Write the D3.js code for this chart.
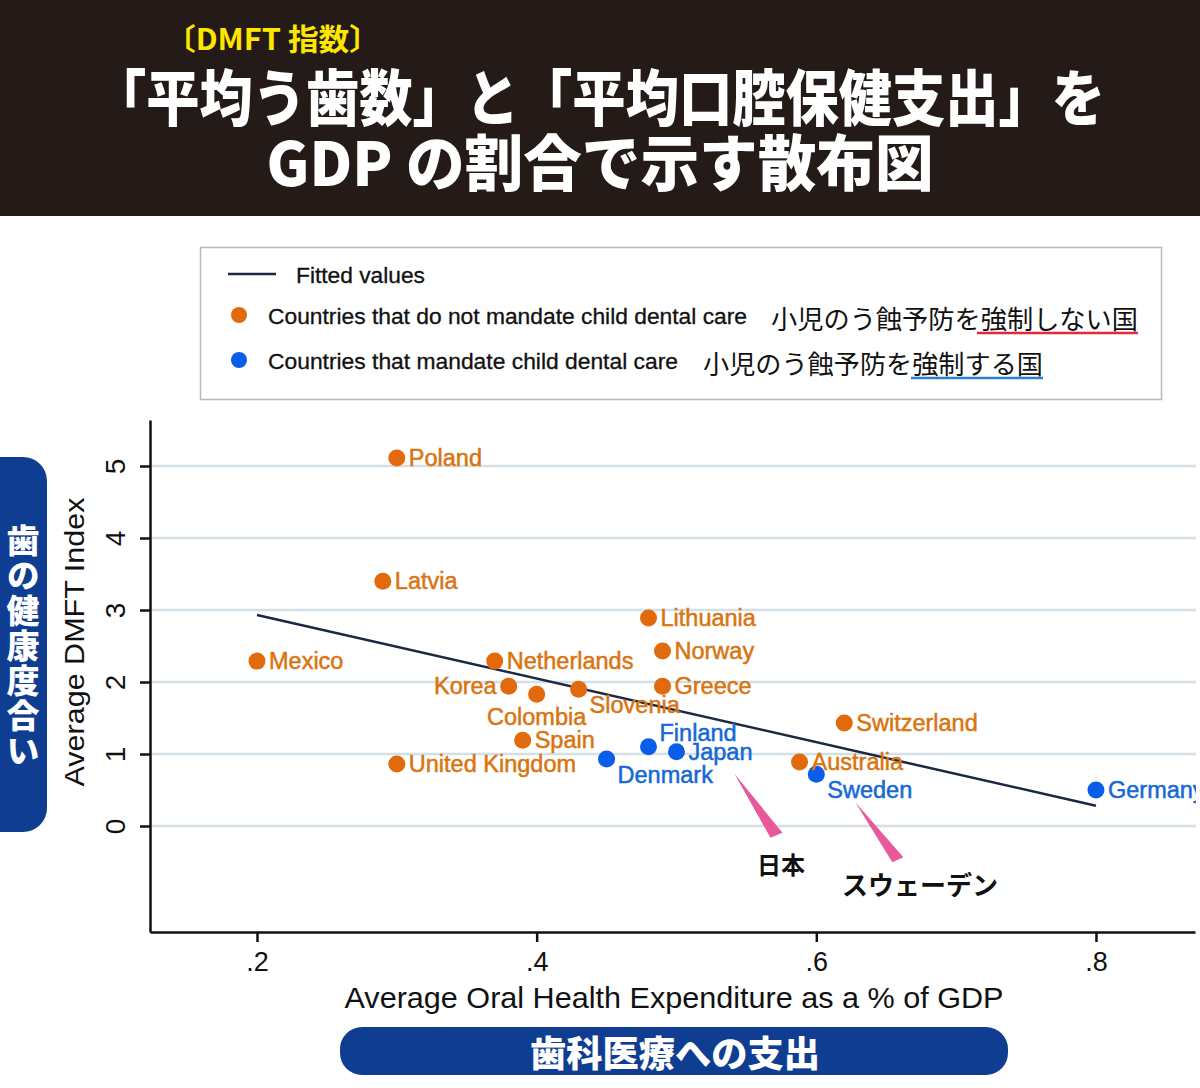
<!DOCTYPE html>
<html><head><meta charset="utf-8">
<script src="https://cdn.jsdelivr.net/npm/d3@7"></script>
<style>body{margin:0;background:#fff}svg{display:block}</style>
</head><body>
<svg id="c" width="1200" height="1088"></svg>
<script>
// ---------- data ----------
const countries   = ["Poland","Latvia","Mexico","Netherlands","Korea","Colombia","Slovenia","Spain","United Kingdom","Lithuania","Norway","Greece","Switzerland","Australia","Denmark","Finland","Japan","Sweden","Germany"];
const expenditure = [0.30,0.29,0.20,0.37,0.38,0.40,0.43,0.39,0.30,0.48,0.49,0.49,0.62,0.588,0.45,0.48,0.50,0.60,0.80];
const dmft        = [5.11,3.40,2.29,2.29,1.94,1.83,1.90,1.19,0.86,2.89,2.43,1.94,1.43,0.89,0.93,1.10,1.03,0.72,0.50];
const mandates    = [0,0,0,0,0,0,0,0,0,0,0,0,0,0,1,1,1,1,1];
const xTicks = [0.2,0.4,0.6,0.8];
const yTicks = [0,1,2,3,4,5];
const legendEn = ["Fitted values","Countries that do not mandate child dental care","Countries that mandate child dental care"];
const legendJa = ["小児のう蝕予防を強制しない国","小児のう蝕予防を強制する国"];
const titleSub = "〔DMFT 指数〕";
const titleLine1 = "「平均う歯数」と「平均口腔保健支出」を";
const titleLine2 = "GDP の割合で示す散布図";
const xTitle = "Average Oral Health Expenditure as a % of GDP";
const yTitle = "Average DMFT Index";
const xTitleJa = "歯科医療への支出";
const yTitleJa = "歯の健康度合い";
const calloutJapan = "日本", calloutSweden = "スウェーデン";

// label placement (clock positions, style only)
const labelClock = {Korea:9, Colombia:6, Slovenia:4, Denmark:4, Sweden:4, Finland:2};

// ---------- styles ----------
const ORANGE = "#e3690d", ORANGE_T = "#d9740f", BLUE = "#0a5de8", BLUE_T = "#1469d4";
const NAVY = "#1b2744", GRID = "#d4dfe6", PILL = "#0e3d92";
const SANS = "'Liberation Sans', Arial, sans-serif";
const JP = "'Noto Sans CJK JP', 'Noto Sans', sans-serif";

const svg = d3.select("#c");

// ---------- header ----------
svg.append("rect").attr("x",0).attr("y",0).attr("width",1200).attr("height",216).attr("fill","#241a17");
svg.append("text").attr("x",165).attr("y",50).attr("fill","#ffe600").attr("font-family",JP)
  .attr("font-weight",700).attr("font-size",30).attr("textLength",215).attr("lengthAdjust","spacingAndGlyphs").text(titleSub);
svg.append("text").attr("x",599).attr("y",121).attr("fill","#fff").attr("font-family",JP)
  .attr("font-weight",900).attr("font-size",61).attr("text-anchor","middle")
  .attr("textLength",1012).attr("lengthAdjust","spacingAndGlyphs").text(titleLine1);
svg.append("text").attr("x",600).attr("y",186).attr("fill","#fff").attr("font-family",JP)
  .attr("font-weight",900).attr("font-size",61).attr("text-anchor","middle")
  .attr("textLength",667).attr("lengthAdjust","spacingAndGlyphs").text(titleLine2);

// ---------- legend ----------
const lg = svg.append("g");
lg.append("rect").attr("x",200.5).attr("y",247.5).attr("width",961).attr("height",152)
  .attr("fill","#fff").attr("stroke","#b8b8b8").attr("stroke-width",1.5);
lg.append("line").attr("x1",228).attr("x2",276).attr("y1",274).attr("y2",274).attr("stroke",NAVY).attr("stroke-width",2.5);
lg.append("circle").attr("cx",239).attr("cy",315).attr("r",8).attr("fill",ORANGE);
lg.append("circle").attr("cx",239).attr("cy",360).attr("r",8).attr("fill",BLUE);
[[296,275],[268,316],[268,361]].forEach((p,i)=>{
  lg.append("text").attr("x",p[0]).attr("y",p[1]).attr("dominant-baseline","central")
    .attr("font-family",SANS).attr("font-size",22).attr("fill","#111")
    .attr("stroke","#111").attr("stroke-width",0.3)
    .attr("textLength", [129,479,410][i]).attr("lengthAdjust","spacingAndGlyphs").text(legendEn[i]);
});
lg.append("text").attr("x",771).attr("y",317).attr("dominant-baseline","central").attr("font-family",JP)
  .attr("font-size",26).attr("fill","#111").attr("textLength",367).attr("lengthAdjust","spacingAndGlyphs").text(legendJa[0]);
lg.append("text").attr("x",703).attr("y",362).attr("dominant-baseline","central").attr("font-family",JP)
  .attr("font-size",26).attr("fill","#111").attr("textLength",340).attr("lengthAdjust","spacingAndGlyphs").text(legendJa[1]);
lg.append("line").attr("x1",977).attr("x2",1138).attr("y1",333).attr("y2",333).attr("stroke","#e02a3c").attr("stroke-width",2.5);
lg.append("line").attr("x1",911).attr("x2",1043).attr("y1",378).attr("y2",378).attr("stroke","#2b80c9").attr("stroke-width",2.5);

// ---------- scales ----------
const x = d3.scaleLinear().domain([0.12348, 0.87082]).range([150, 1195]);
const y = d3.scaleLinear().domain([-1.4722, 5.6389]).range([932, 420]);

svg.append("defs").append("clipPath").attr("id","clip")
  .append("rect").attr("x",0).attr("y",400).attr("width",1196).attr("height",560);
const plot = svg.append("g").attr("clip-path","url(#clip)");

// grid
plot.selectAll("line.grid").data(yTicks).join("line").attr("class","grid")
  .attr("x1",152).attr("x2",1196).attr("y1",d=>y(d)).attr("y2",d=>y(d))
  .attr("stroke",GRID).attr("stroke-width",2.5);

// fitted line (OLS)
const n = expenditure.length;
const mx = d3.mean(expenditure), my = d3.mean(dmft);
let sxy=0, sxx=0;
for (let i=0;i<n;i++){ sxy += (expenditure[i]-mx)*(dmft[i]-my); sxx += (expenditure[i]-mx)**2; }
const slope = sxy/sxx, icpt = my - slope*mx;
const [xmin,xmax] = d3.extent(expenditure);
plot.append("path").datum([xmin,xmax])
  .attr("d", d3.line().x(d=>x(d)).y(d=>y(icpt+slope*d)))
  .attr("stroke",NAVY).attr("stroke-width",2.5).attr("fill","none");

// points + labels
const pts = countries.map((c,i)=>({c, x:expenditure[i], y:dmft[i], m:mandates[i]}));
plot.selectAll("circle.pt").data(pts).join("circle").attr("class","pt")
  .attr("cx",d=>x(d.x)).attr("cy",d=>y(d.y)).attr("r",8.5)
  .attr("fill",d=>d.m?BLUE:ORANGE);
const off = {3:[12,0,"start"],9:[-12,0,"end"],6:[0,23,"middle"],4:[11,16,"start"],2:[11,-14,"start"]};
plot.selectAll("text.lbl").data(pts).join("text").attr("class","lbl")
  .each(function(d){
    const o = off[labelClock[d.c]||3];
    d3.select(this).attr("x",x(d.x)+o[0]).attr("y",y(d.y)+o[1]).attr("text-anchor",o[2]);
  })
  .attr("dominant-baseline","central").attr("font-family",SANS).attr("font-size",23.5)
  .attr("fill",d=>d.m?BLUE_T:ORANGE_T).attr("stroke",d=>d.m?BLUE_T:ORANGE_T).attr("stroke-width",0.5)
  .text(d=>d.c);

// ---------- axes ----------
const fmt = d=>d3.format(".1f")(d).replace(/^0/,"");
const gx = svg.append("g").attr("transform","translate(0,932)")
  .call(d3.axisBottom(x).tickValues(xTicks).tickSize(10).tickSizeOuter(0).tickFormat(fmt));
gx.selectAll("text").attr("y",20).attr("font-size",27).attr("font-family",SANS).attr("fill","#111");
const gy = svg.append("g").attr("transform","translate(150,0)")
  .call(d3.axisLeft(y).tickValues(yTicks).tickSize(10).tickSizeOuter(0));
gy.selectAll("text").attr("x",0).attr("y",0).attr("dy",null)
  .attr("transform","translate(-35,0) rotate(-90)").attr("text-anchor","middle")
  .attr("dominant-baseline","central").attr("font-size",28).attr("font-family",SANS).attr("fill","#111");
[gx,gy].forEach(g=>{
  g.select(".domain").attr("stroke","#111").attr("stroke-width",2.5);
  g.selectAll(".tick line").attr("stroke","#111").attr("stroke-width",2.5);
});

// axis titles
svg.append("text").attr("x",674).attr("y",997).attr("text-anchor","middle").attr("dominant-baseline","central")
  .attr("font-family",SANS).attr("font-size",30).attr("fill","#111")
  .attr("textLength",659).attr("lengthAdjust","spacingAndGlyphs").text(xTitle);
svg.append("text").attr("transform","translate(75,642) rotate(-90)").attr("text-anchor","middle")
  .attr("dominant-baseline","central").attr("font-family",SANS).attr("font-size",27).attr("fill","#111")
  .attr("textLength",289).attr("lengthAdjust","spacingAndGlyphs").text(yTitle);

// ---------- Japanese pills ----------
svg.append("rect").attr("x",-30).attr("y",457).attr("width",77).attr("height",375).attr("rx",24).attr("fill",PILL);
svg.append("text").attr("x",23).attr("y",646).attr("text-anchor","middle")
  .style("writing-mode","vertical-rl").style("letter-spacing","2px")
  .attr("font-family",JP).attr("font-weight",900).attr("font-size",33).attr("fill","#fff").text(yTitleJa);
svg.append("rect").attr("x",340).attr("y",1027).attr("width",668).attr("height",48).attr("rx",22).attr("fill",PILL);
svg.append("text").attr("x",675).attr("y",1051).attr("text-anchor","middle").attr("dominant-baseline","central")
  .attr("font-family",JP).attr("font-weight",900).attr("font-size",36).attr("fill","#fff")
  .attr("textLength",290).attr("lengthAdjust","spacingAndGlyphs").text(xTitleJa);

// ---------- callouts ----------
const jp = pts.find(d=>d.c==="Japan"), sw = pts.find(d=>d.c==="Sweden");
const jx = x(jp.x), jy = y(jp.y), sx = x(sw.x), sy = y(sw.y);
svg.append("polygon").attr("points",[[jx+58,jy+22],[jx+94,jy+86],[jx+106,jy+81]].join(" ")).attr("fill","#e8589a");
svg.append("polygon").attr("points",[[sx+39,sy+28],[sx+76,sy+88],[sx+87,sy+83]].join(" ")).attr("fill","#e8589a");
svg.append("text").attr("x",781).attr("y",863).attr("text-anchor","middle").attr("dominant-baseline","central")
  .attr("font-family",JP).attr("font-weight",700).attr("font-size",24).attr("fill","#111").text(calloutJapan);
svg.append("text").attr("x",920).attr("y",883).attr("text-anchor","middle").attr("dominant-baseline","central")
  .attr("font-family",JP).attr("font-weight",700).attr("font-size",26).attr("fill","#111").text(calloutSweden);
</script>
</body></html>
